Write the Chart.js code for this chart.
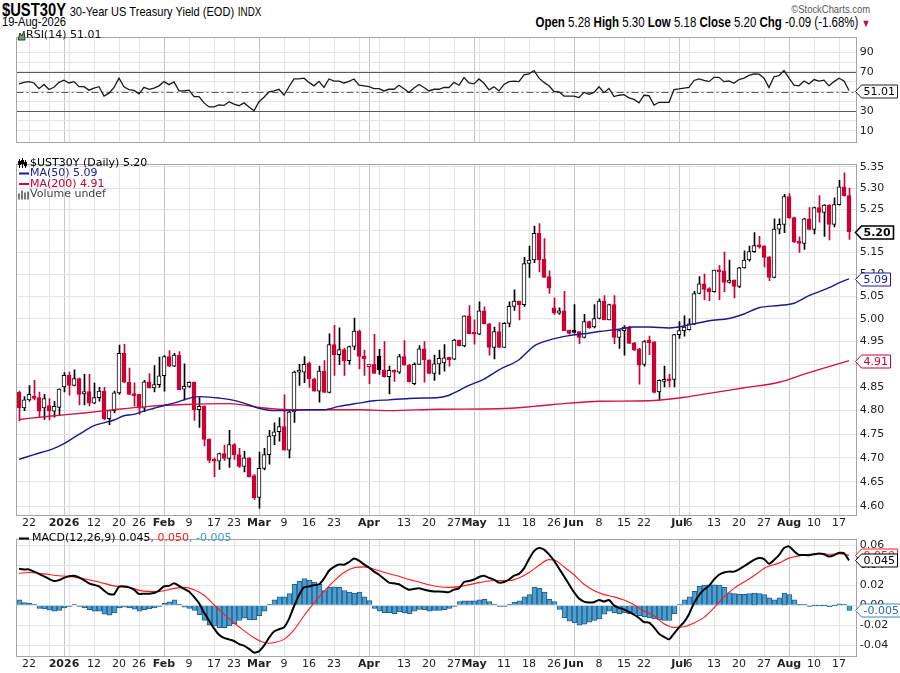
<!DOCTYPE html>
<html>
<head>
<meta charset="utf-8">
<script src="https://cdn.jsdelivr.net/npm/chart.js@4.4.1/dist/chart.umd.min.js"></script>
<style>
  body { margin: 0; background: #fff; width: 900px; height: 673px; overflow: hidden; position: relative; }
  canvas { position: absolute; left: 0; }
  .hd { position: absolute; white-space: nowrap; font-family: "Liberation Sans", Arial, sans-serif; color: #000; transform: scaleX(0.82); }
  #t1 { left: 2px; top: 1px; line-height: 18px; transform-origin: left top; }
  #t1 .tk { font-weight: bold; font-size: 18px; }
  #t1 .nm { font-size: 13.5px; }
  #t1 .ex { font-size: 12px; }
  #t2 { left: 2px; top: 15px; font-size: 13.5px; line-height: 14px; transform-origin: left top; }
  #t3 { right: 29px; top: 15px; font-size: 14px; line-height: 14px; transform-origin: right top; }
  #t4 { right: 30px; top: 3px; font-size: 11.5px; line-height: 12px; color: #555; transform-origin: right top; }
</style>
</head>
<body>
<div class="hd" id="t1"><span class="tk">$UST30Y</span> <span class="nm">30-Year US Treasury Yield (EOD)</span> <span class="ex">INDX</span></div>
<div class="hd" id="t2">19-Aug-2026</div>
<div class="hd" id="t4">©StockCharts.com</div>
<div class="hd" id="t3"><b>Open</b> 5.28 <b>High</b> 5.30 <b>Low</b> 5.18 <b>Close</b> 5.20 <b>Chg</b> -0.09 (-1.68%) <span style="color:#b0103a;font-size:11px">&#9660;</span></div>

<canvas id="rsiChart" width="900" height="124" style="top:28px"></canvas>
<canvas id="priceChart" width="900" height="376" style="top:155px"></canvas>
<canvas id="macdChart" width="900" height="143" style="top:530px"></canvas>

<script>
// trading days 18-Dec-2025 .. 19-Aug-2026 are indexes 0..166
const xTickIdx = [2, 9, 15, 20, 24, 29, 34, 39, 43, 48, 53, 58, 63, 70, 77, 82, 87, 91, 97, 102, 107, 111, 116, 121, 125, 132, 134, 139, 144, 149, 154, 159, 164];
const xTickText = ['22', '2026', '12', '20', '26', 'Feb', '9', '17', '23', 'Mar', '9', '16', '23', 'Apr', '13', '20', '27', 'May', '11', '18', '26', 'Jun', '8', '15', '22', 'Jul', '6', '13', '20', '27', 'Aug', '10', '17'];
const gridIdx = [2, 6, 9, 10, 15, 20, 24, 29, 34, 39, 43, 48, 53, 58, 63, 68, 70, 72, 77, 82, 87, 91, 92, 97, 102, 107, 111, 116, 121, 125, 130, 132, 134, 139, 144, 149, 154, 159, 164];
const monthIdx = [9, 29, 48, 70, 91, 111, 132, 154];

const openP = [
  4.839, 4.806, 4.823, 4.831, 4.828, 4.806, 4.811, 4.799, 4.807, 4.851,
  4.876, 4.854, 4.869, 4.836, 4.841, 4.816, 4.828, 4.842, 4.783, 4.800,
  4.838, 4.924, 4.861, 4.835, 4.835, 4.805, 4.862, 4.849, 4.856, 4.875,
  4.917, 4.896, 4.920, 4.846, 4.852, 4.861, 4.802, 4.809, 4.739, 4.697,
  4.693, 4.709, 4.699, 4.728, 4.707, 4.682, 4.700, 4.663, 4.618, 4.678,
  4.707, 4.746, 4.755, 4.766, 4.716, 4.797, 4.883, 4.883, 4.902, 4.868,
  4.842, 4.885, 4.839, 4.943, 4.921, 4.932, 4.908, 4.939, 4.973, 4.918,
  4.895, 4.900, 4.918, 4.888, 4.873, 4.887, 4.883, 4.917, 4.898, 4.858,
  4.900, 4.934, 4.910, 4.880, 4.901, 4.903, 4.915, 4.911, 4.953, 4.940,
  5.007, 4.969, 4.966, 5.018, 4.989, 4.937, 4.972, 4.937, 4.990, 5.028,
  5.040, 5.032, 5.125, 5.133, 5.194, 5.135, 5.095, 5.025, 5.013, 5.018,
  4.975, 4.973, 4.972, 4.959, 4.994, 4.982, 5.001, 5.040, 4.998, 5.032,
  4.959, 4.974, 4.982, 4.947, 4.934, 4.900, 4.953, 4.949, 4.840, 4.863,
  4.867, 4.867, 4.965, 4.974, 4.976, 4.989, 5.057, 5.079, 5.068, 5.061,
  5.110, 5.108, 5.082, 5.087, 5.073, 5.115, 5.133, 5.152, 5.166, 5.165,
  5.140, 5.093, 5.204, 5.215, 5.280, 5.231, 5.176, 5.171, 5.228, 5.203,
  5.254, 5.243, 5.260, 5.215, 5.261, 5.303, 5.282
];
const highP = [
  4.842, 4.830, 4.854, 4.865, 4.840, 4.835, 4.826, 4.820, 4.847, 4.882,
  4.883, 4.888, 4.870, 4.878, 4.878, 4.859, 4.850, 4.850, 4.800, 4.842,
  4.942, 4.944, 4.892, 4.860, 4.835, 4.865, 4.880, 4.897, 4.916, 4.919,
  4.930, 4.924, 4.928, 4.901, 4.862, 4.862, 4.828, 4.810, 4.740, 4.700,
  4.710, 4.727, 4.758, 4.730, 4.720, 4.714, 4.700, 4.665, 4.712, 4.720,
  4.758, 4.774, 4.785, 4.834, 4.800, 4.885, 4.900, 4.917, 4.905, 4.870,
  4.896, 4.908, 4.967, 4.986, 4.980, 4.935, 4.940, 5.002, 4.975, 4.931,
  4.900, 4.966, 4.933, 4.950, 4.896, 4.888, 4.922, 4.952, 4.900, 4.903,
  4.941, 4.950, 4.910, 4.920, 4.931, 4.943, 4.916, 4.955, 4.953, 5.007,
  5.030, 4.998, 5.038, 5.027, 4.990, 4.982, 4.992, 4.992, 5.038, 5.065,
  5.040, 5.139, 5.165, 5.211, 5.217, 5.182, 5.108, 5.047, 5.025, 5.062,
  4.975, 5.032, 4.972, 5.010, 4.995, 5.032, 5.045, 5.052, 5.033, 5.052,
  4.975, 4.985, 4.984, 4.948, 4.935, 4.952, 4.962, 4.950, 4.866, 4.896,
  4.878, 4.966, 4.994, 5.007, 5.000, 5.062, 5.095, 5.101, 5.070, 5.110,
  5.120, 5.151, 5.133, 5.088, 5.116, 5.154, 5.165, 5.196, 5.187, 5.166,
  5.141, 5.228, 5.228, 5.285, 5.287, 5.232, 5.186, 5.229, 5.254, 5.255,
  5.282, 5.261, 5.261, 5.277, 5.318, 5.336, 5.300
];
const lowP = [
  4.778, 4.800, 4.820, 4.823, 4.785, 4.781, 4.780, 4.786, 4.790, 4.840,
  4.833, 4.853, 4.812, 4.812, 4.810, 4.815, 4.820, 4.780, 4.770, 4.795,
  4.835, 4.860, 4.834, 4.810, 4.792, 4.798, 4.848, 4.840, 4.850, 4.842,
  4.895, 4.895, 4.845, 4.823, 4.850, 4.779, 4.764, 4.725, 4.690, 4.661,
  4.676, 4.695, 4.680, 4.697, 4.680, 4.671, 4.660, 4.614, 4.596, 4.675,
  4.687, 4.728, 4.735, 4.716, 4.700, 4.775, 4.854, 4.860, 4.850, 4.842,
  4.818, 4.839, 4.838, 4.876, 4.899, 4.876, 4.900, 4.932, 4.890, 4.876,
  4.858, 4.880, 4.878, 4.872, 4.836, 4.863, 4.880, 4.898, 4.861, 4.856,
  4.900, 4.861, 4.879, 4.865, 4.878, 4.885, 4.896, 4.910, 4.940, 4.938,
  4.967, 4.944, 4.965, 4.989, 4.920, 4.912, 4.937, 4.937, 4.982, 5.019,
  4.998, 5.028, 5.093, 5.127, 5.106, 5.093, 5.057, 5.010, 5.010, 4.974,
  4.966, 4.968, 4.945, 4.958, 4.979, 4.980, 5.000, 4.998, 4.998, 4.945,
  4.935, 4.920, 4.946, 4.930, 4.857, 4.896, 4.921, 4.838, 4.823, 4.851,
  4.851, 4.851, 4.957, 4.962, 4.975, 4.987, 5.056, 5.043, 5.041, 5.060,
  5.043, 5.061, 5.080, 5.047, 5.070, 5.114, 5.130, 5.150, 5.160, 5.117,
  5.086, 5.092, 5.193, 5.196, 5.229, 5.173, 5.150, 5.157, 5.202, 5.193,
  5.220, 5.187, 5.179, 5.209, 5.260, 5.281, 5.180
];
const closeP = [
  4.806, 4.823, 4.835, 4.826, 4.799, 4.826, 4.799, 4.809, 4.846, 4.876,
  4.854, 4.869, 4.835, 4.841, 4.816, 4.828, 4.842, 4.783, 4.800, 4.838,
  4.924, 4.861, 4.835, 4.832, 4.805, 4.862, 4.849, 4.856, 4.875, 4.917,
  4.896, 4.920, 4.845, 4.852, 4.861, 4.802, 4.809, 4.739, 4.695, 4.693,
  4.709, 4.699, 4.728, 4.707, 4.682, 4.700, 4.661, 4.617, 4.678, 4.707,
  4.746, 4.755, 4.766, 4.716, 4.797, 4.883, 4.885, 4.900, 4.868, 4.842,
  4.885, 4.839, 4.943, 4.921, 4.932, 4.908, 4.939, 4.973, 4.917, 4.912,
  4.900, 4.880, 4.888, 4.873, 4.887, 4.883, 4.917, 4.898, 4.862, 4.900,
  4.934, 4.910, 4.880, 4.901, 4.913, 4.914, 4.910, 4.953, 4.940, 5.007,
  4.967, 4.966, 5.018, 4.989, 4.937, 4.972, 4.937, 4.990, 5.028, 5.040,
  5.032, 5.125, 5.133, 5.194, 5.133, 5.093, 5.069, 5.013, 5.018, 4.974,
  4.968, 4.970, 4.959, 4.994, 4.980, 5.001, 5.040, 4.998, 5.032, 4.959,
  4.974, 4.982, 4.946, 4.932, 4.898, 4.950, 4.947, 4.839, 4.865, 4.867,
  4.864, 4.965, 4.974, 4.982, 4.989, 5.057, 5.079, 5.066, 5.061, 5.110,
  5.106, 5.082, 5.087, 5.073, 5.115, 5.133, 5.152, 5.166, 5.163, 5.139,
  5.093, 5.204, 5.215, 5.280, 5.230, 5.174, 5.171, 5.228, 5.203, 5.254,
  5.243, 5.260, 5.215, 5.261, 5.303, 5.282, 5.198
];

// moving averages at these day indexes
const ma50Idx = [0, 3, 7, 9, 11, 13, 15, 17, 19, 21, 23, 25, 27, 29, 31, 33, 35, 36, 38, 40, 42, 45, 48, 51, 54, 58, 61, 64, 68, 71, 74, 78, 81, 84, 86, 90, 93, 96, 100, 103, 106, 110, 113, 116, 120, 123, 126, 130, 135, 138, 142, 145, 148, 152, 155, 158, 162, 164, 166];
const ma50Val = [4.697, 4.707, 4.720, 4.730, 4.743, 4.756, 4.768, 4.774, 4.780, 4.789, 4.792, 4.799, 4.805, 4.811, 4.816, 4.823, 4.829, 4.830, 4.829, 4.827, 4.824, 4.816, 4.805, 4.800, 4.800, 4.802, 4.802, 4.809, 4.816, 4.821, 4.823, 4.826, 4.827, 4.828, 4.833, 4.854, 4.868, 4.888, 4.910, 4.940, 4.953, 4.963, 4.967, 4.972, 4.977, 4.982, 4.982, 4.980, 4.989, 4.996, 5.001, 5.011, 5.025, 5.030, 5.035, 5.052, 5.070, 5.081, 5.090];
const ma200Idx = [0, 6, 13, 19, 26, 33, 42, 48, 54, 61, 68, 74, 84, 96, 103, 110, 116, 126, 132, 138, 145, 152, 158, 166];
const ma200Val = [4.781, 4.788, 4.795, 4.802, 4.809, 4.813, 4.815, 4.807, 4.802, 4.802, 4.802, 4.800, 4.803, 4.804, 4.809, 4.816, 4.820, 4.821, 4.827, 4.837, 4.849, 4.861, 4.882, 4.908];

const rsi = [
  57.8, 59.3, 60.1, 58.7, 52.9, 57.2, 52.0, 54.3, 59.3, 61.6,
  58.7, 60.1, 54.9, 54.9, 51.4, 53.5, 54.9, 45.4, 48.3, 54.1,
  63.6, 54.9, 52.0, 51.2, 47.7, 54.3, 52.3, 53.5, 55.8, 60.1,
  57.0, 59.9, 50.6, 50.6, 51.4, 44.8, 44.8, 38.4, 34.3, 34.3,
  36.4, 35.8, 39.6, 37.2, 35.5, 38.4, 34.1, 30.3, 39.6, 44.2,
  49.7, 50.6, 52.3, 46.2, 54.9, 62.8, 62.8, 63.6, 59.3, 55.8,
  60.4, 54.3, 62.8, 60.7, 60.7, 58.7, 60.4, 62.8, 56.4, 55.8,
  54.9, 52.9, 52.9, 50.6, 52.3, 52.3, 56.4, 52.9, 49.1, 53.5,
  57.2, 54.1, 50.6, 52.3, 52.3, 54.1, 54.1, 59.3, 56.4, 64.2,
  58.7, 57.8, 62.8, 58.4, 51.7, 54.9, 50.6, 57.2, 60.1, 60.7,
  60.1, 67.1, 68.0, 71.4, 63.6, 59.3, 55.8, 50.0, 49.7, 45.4,
  45.4, 45.4, 43.9, 49.1, 47.1, 49.1, 54.9, 48.8, 53.2, 44.8,
  46.2, 46.8, 43.6, 41.9, 38.4, 46.2, 45.7, 36.1, 39.0, 39.0,
  39.0, 52.0, 52.6, 53.5, 54.1, 61.3, 62.8, 61.3, 60.1, 64.5,
  64.5, 60.1, 60.7, 58.4, 62.2, 63.6, 66.5, 68.0, 67.7, 63.6,
  54.1, 65.1, 66.2, 71.4, 63.6, 56.4, 55.8, 60.7, 57.8, 62.2,
  60.7, 61.6, 55.8, 60.1, 63.6, 60.7, 51.01
];

const macdLine = [
  0.0365, 0.0359, 0.0359, 0.0337, 0.0315, 0.0290, 0.0265, 0.0243, 0.0252, 0.0274,
  0.0290, 0.0296, 0.0280, 0.0252, 0.0220, 0.0205, 0.0189, 0.0148, 0.0113, 0.0110,
  0.0186, 0.0189, 0.0180, 0.0157, 0.0113, 0.0117, 0.0117, 0.0123, 0.0148, 0.0189,
  0.0195, 0.0220, 0.0195, 0.0164, 0.0139, 0.0085, 0.0022, -0.0072, -0.0151, -0.0230,
  -0.0293, -0.0324, -0.0340, -0.0356, -0.0387, -0.0403, -0.0435, -0.0472, -0.0460, -0.0403,
  -0.0324, -0.0261, -0.0239, -0.0220, -0.0135, -0.0009, 0.0101, 0.0180, 0.0189, 0.0202,
  0.0211, 0.0268, 0.0346, 0.0384, 0.0409, 0.0406, 0.0431, 0.0469, 0.0447, 0.0409,
  0.0378, 0.0337, 0.0306, 0.0265, 0.0227, 0.0220, 0.0211, 0.0180, 0.0157, 0.0164,
  0.0170, 0.0157, 0.0145, 0.0139, 0.0139, 0.0135, 0.0132, 0.0157, 0.0170, 0.0233,
  0.0243, 0.0258, 0.0283, 0.0296, 0.0274, 0.0258, 0.0227, 0.0233, 0.0258, 0.0296,
  0.0315, 0.0369, 0.0463, 0.0542, 0.0573, 0.0557, 0.0510, 0.0447, 0.0369, 0.0290,
  0.0211, 0.0132, 0.0069, 0.0038, 0.0028, 0.0031, 0.0054, 0.0038, 0.0054, 0.0000,
  -0.0025, -0.0041, -0.0066, -0.0094, -0.0126, -0.0167, -0.0173, -0.0220, -0.0283, -0.0315,
  -0.0340, -0.0283, -0.0220, -0.0167, -0.0088, 0.0022, 0.0101, 0.0157, 0.0195, 0.0258,
  0.0306, 0.0328, 0.0337, 0.0337, 0.0359, 0.0391, 0.0422, 0.0454, 0.0472, 0.0463,
  0.0416, 0.0454, 0.0501, 0.0573, 0.0589, 0.0542, 0.0504, 0.0504, 0.0501, 0.0510,
  0.0517, 0.0510, 0.0488, 0.0501, 0.0526, 0.0520, 0.0450
];
const signalIdx = [0, 2, 5, 8, 10, 13, 16, 19, 22, 25, 28, 31, 33, 35, 37, 39, 41, 43, 45, 47, 49, 50, 51, 53, 55, 57, 59, 61, 63, 65, 67, 69, 70, 72, 74, 76, 78, 80, 82, 84, 86, 89, 92, 95, 98, 100, 102, 104, 106, 107, 109, 111, 113, 115, 117, 119, 121, 123, 125, 127, 129, 131, 133, 135, 137, 139, 141, 143, 145, 147, 149, 150, 152, 154, 156, 158, 160, 162, 164, 166];
const signalVal = [0.0321, 0.0328, 0.0315, 0.0296, 0.0290, 0.0265, 0.0233, 0.0195, 0.0180, 0.0142, 0.0139, 0.0170, 0.0180, 0.0157, 0.0101, 0.0006, -0.0088, -0.0176, -0.0252, -0.0324, -0.0372, -0.0378, -0.0372, -0.0340, -0.0246, -0.0104, 0.0022, 0.0139, 0.0243, 0.0328, 0.0375, 0.0384, 0.0375, 0.0346, 0.0315, 0.0290, 0.0258, 0.0233, 0.0205, 0.0186, 0.0180, 0.0195, 0.0227, 0.0249, 0.0249, 0.0274, 0.0328, 0.0400, 0.0457, 0.0454, 0.0384, 0.0306, 0.0211, 0.0148, 0.0107, 0.0085, 0.0054, 0.0006, -0.0057, -0.0104, -0.0183, -0.0220, -0.0214, -0.0176, -0.0120, -0.0025, 0.0085, 0.0170, 0.0233, 0.0296, 0.0369, 0.0391, 0.0422, 0.0472, 0.0494, 0.0510, 0.0517, 0.0510, 0.0517, 0.0500];
const macdHist = [
  0.0054, 0.0028, 0.0022, 0.0006, -0.0031, -0.0035, -0.0047, -0.0057, -0.0050, -0.0025,
  -0.0006, 0.0006, -0.0006, -0.0025, -0.0044, -0.0057, -0.0057, -0.0088, -0.0098, -0.0076,
  -0.0025, -0.0019, -0.0025, -0.0038, -0.0057, -0.0044, -0.0035, -0.0025, -0.0009, 0.0022,
  0.0035, 0.0054, 0.0006, -0.0019, -0.0031, -0.0050, -0.0094, -0.0151, -0.0198, -0.0208,
  -0.0224, -0.0224, -0.0205, -0.0183, -0.0151, -0.0129, -0.0145, -0.0145, -0.0104, -0.0057,
  0.0005, 0.0054, 0.0085, 0.0085, 0.0117, 0.0211, 0.0243, 0.0268, 0.0252, 0.0233,
  0.0211, 0.0148, 0.0180, 0.0186, 0.0180, 0.0148, 0.0132, 0.0123, 0.0132, 0.0085,
  0.0047, -0.0031, -0.0057, -0.0072, -0.0072, -0.0082, -0.0066, -0.0072, -0.0082, -0.0057,
  -0.0041, -0.0044, -0.0057, -0.0050, -0.0050, -0.0044, -0.0031, -0.0009, 0.0038, 0.0044,
  0.0044, 0.0044, 0.0054, 0.0060, 0.0038, 0.0013, -0.0006, -0.0009, 0.0006, 0.0031,
  0.0044, 0.0085, 0.0107, 0.0180, 0.0170, 0.0132, 0.0060, 0.0038, -0.0041, -0.0126,
  -0.0157, -0.0176, -0.0198, -0.0189, -0.0167, -0.0151, -0.0135, -0.0088, -0.0057, -0.0072,
  -0.0082, -0.0072, -0.0082, -0.0088, -0.0104, -0.0113, -0.0126, -0.0135, -0.0145, -0.0151,
  -0.0151, -0.0082, 0.0013, 0.0054, 0.0085, 0.0139, 0.0189, 0.0202, 0.0205, 0.0205,
  0.0202, 0.0180, 0.0126, 0.0117, 0.0110, 0.0110, 0.0117, 0.0123, 0.0117, 0.0107,
  0.0076, 0.0054, 0.0076, 0.0123, 0.0107, 0.0054, 0.0006, 0.0006, -0.0009, 0.0000,
  0.0000, 0.0000, -0.0013, 0.0000, 0.0016, 0.0006, -0.0050
];

const priceTicks = [4.60, 4.65, 4.70, 4.75, 4.80, 4.85, 4.90, 4.95, 5.00, 5.05, 5.10, 5.15, 5.20, 5.25, 5.30, 5.35];
const rsiTicks = [10, 20, 30, 40, 50, 60, 70, 80, 90];
const rsiLabelled = [10, 30, 70, 90];
const macdTicks = [-0.04, -0.02, 0, 0.02, 0.04, 0.06];

const RED = '#cc0033', NAVY = '#1a1a8c', FONT = 'DejaVu Sans';
const wickShift = 0.1; // half a pixel, keeps 1px wicks sharp

function xAxis(showLabels, h) {
  return {
    type: 'linear', min: -0.5, max: 167.54, offset: false,
    afterBuildTicks: s => { s.ticks = gridIdx.map(v => ({ value: v })); },
    afterFit: s => { s.height = h; },
    grid: { offset: false, drawTicks: false, color: c => monthIdx.includes(c.tick && c.tick.value) ? '#c6c6c6' : '#e3e3e3' },
    border: { display: false },
    ticks: {
      display: showLabels, autoSkip: false, maxRotation: 0, padding: 1, color: '#222',
      font: c => ({ family: FONT, size: 11, weight: (c.tick && (monthIdx.includes(c.tick.value))) ? 'bold' : 'normal' }),
      callback: v => { const k = xTickIdx.indexOf(v); return k < 0 ? '' : xTickText[k]; }
    }
  };
}
function yAxis(type, min, max, ticks, fmt) {
  return {
    type: type, position: 'right', min: min, max: max,
    afterFit: s => { s.width = 43.3; },
    afterBuildTicks: s => { s.ticks = ticks.map(v => ({ value: v })); },
    grid: { drawTicks: false, color: '#e3e3e3' },
    border: { display: false },
    ticks: { autoSkip: false, padding: 3, color: '#222', font: { family: FONT, size: 11 }, callback: fmt }
  };
}

function drawIcon(ctx, kind, y, color) {
  ctx.save();
  if (kind === 'mountain') {
    ctx.beginPath();
    ctx.moveTo(18, y + 5); ctx.lineTo(20, y - 2); ctx.lineTo(22, y + 1); ctx.lineTo(24, y - 4); ctx.lineTo(25, y + 5);
    ctx.closePath(); ctx.fillStyle = '#6d9e6d'; ctx.fill(); ctx.strokeStyle = '#333'; ctx.lineWidth = 1; ctx.stroke();
  } else if (kind === 'candles') {
    ctx.fillStyle = '#000';
    ctx.fillRect(19, y - 4, 1, 9); ctx.fillRect(22, y - 5, 1, 10); ctx.fillRect(25, y - 3, 1, 8);
    ctx.fillRect(18, y - 2, 3, 4); ctx.fillRect(21, y - 3, 3, 4); ctx.fillRect(24, y - 1, 3, 4);
  } else if (kind === 'dash') {
    ctx.fillStyle = color; ctx.fillRect(19, y - 1, 10, 2);
  } else if (kind === 'bars') {
    ctx.fillStyle = '#777';
    ctx.fillRect(18, y - 1, 2, 6); ctx.fillRect(21, y - 4, 2, 9); ctx.fillRect(24, y - 2, 2, 7); ctx.fillRect(27, y - 3, 2, 8);
  }
  ctx.restore();
}

// frame, legend text, reference lines and value tags
const decor = {
  id: 'decor',
  beforeDatasetsDraw(chart, args, o) {
    if (!o.refLines) return;
    const ctx = chart.ctx, a = chart.chartArea, y = chart.scales.y;
    ctx.save();
    ctx.strokeStyle = '#5c5c5c'; ctx.lineWidth = 1;
    o.refLines.forEach(r => {
      const py = Math.round(y.getPixelForValue(r.v)) + 0.5;
      ctx.setLineDash(r.dash || []);
      ctx.beginPath(); ctx.moveTo(a.left, py); ctx.lineTo(a.right, py); ctx.stroke();
    });
    ctx.restore();
  },
  afterDraw(chart, args, o) {
    const ctx = chart.ctx, a = chart.chartArea, y = chart.scales.y;
    ctx.save();
    ctx.strokeStyle = '#a6a6a6'; ctx.lineWidth = 1;
    ctx.strokeRect(Math.floor(a.left) + 0.5, Math.floor(a.top) + 0.5, Math.round(a.right - a.left), Math.round(a.bottom - a.top));
    ctx.textBaseline = 'middle'; ctx.textAlign = 'left';
    (o.legend || []).forEach(l => {
      drawIcon(ctx, l.icon, l.y, l.iconColor);
      let x = l.x;
      l.parts.forEach(p => {
        ctx.font = '11px "' + FONT + '"';
        ctx.fillStyle = p.color;
        ctx.fillText(p.text, x, l.y);
        x += ctx.measureText(p.text).width;
      });
    });
    (o.boxes || []).forEach(b => {
      const py = Math.round(y.getPixelForValue(b.v)) + 0.5;
      ctx.font = (b.bold ? 'bold ' : '') + '11px "' + FONT + '"';
      const w = Math.round(ctx.measureText(b.text).width) + 5;
      const x0 = 855.5, x1 = x0 + 6, h = 6.5;
      ctx.beginPath();
      ctx.moveTo(x0, py); ctx.lineTo(x1, py - h); ctx.lineTo(x1 + w, py - h); ctx.lineTo(x1 + w, py + h); ctx.lineTo(x1, py + h);
      ctx.closePath();
      ctx.fillStyle = '#fff'; ctx.fill();
      ctx.strokeStyle = b.color; ctx.lineWidth = b.bold ? 1.6 : 1; ctx.stroke();
      ctx.fillStyle = b.textColor || b.color;
      ctx.fillText(b.text, x1 + 2, py + 0.5);
    });
    ctx.restore();
  }
};

const common = {
  responsive: false, animation: false, devicePixelRatio: 1, events: [],
  layout: { padding: { left: 16.5, right: 0, top: 1, bottom: 0 } }
};

// RSI panel
new Chart(document.getElementById('rsiChart'), {
  type: 'line',
  data: {
    datasets: [{
      data: rsi.map((v, i) => ({ x: i, y: v })),
      borderColor: '#1a1a1a', borderWidth: 1.3, pointRadius: 0, tension: 0
    }]
  },
  options: Object.assign({}, common, {
    scales: {
      x: xAxis(false, 0),
      y: yAxis('linear', -1.9, 105, rsiTicks, v => rsiLabelled.includes(v) ? String(v) : '')
    },
    plugins: {
      legend: { display: false }, tooltip: { enabled: false },
      decor: {
        refLines: [{ v: 70 }, { v: 30 }, { v: 50, dash: [7, 3, 2, 3] }],
        legend: [{ y: 7, x: 26, icon: 'mountain', parts: [{ text: 'RSI(14) 51.01', color: '#111' }] }],
        boxes: [{ v: 51.01, text: '51.01', color: '#222', textColor: '#000' }]
      }
    }
  }),
  plugins: [decor]
});

// price panel
const candleCol = closeP.map((c, i) => (i > 0 && c >= closeP[i - 1]) ? '#000' : RED);
const bodyFill = closeP.map((c, i) => c > openP[i] ? '#fff' : candleCol[i]);

new Chart(document.getElementById('priceChart'), {
  type: 'bar',
  data: {
    datasets: [
      {
        type: 'line', data: ma50Idx.map((x, k) => ({ x: x, y: ma50Val[k] })),
        borderColor: NAVY, borderWidth: 1.4, pointRadius: 0, cubicInterpolationMode: 'monotone', order: 0
      },
      {
        type: 'line', data: ma200Idx.map((x, k) => ({ x: x, y: ma200Val[k] })),
        borderColor: '#d2143f', borderWidth: 1.4, pointRadius: 0, cubicInterpolationMode: 'monotone', order: 0
      },
      {
        data: openP.map((o, i) => ({ x: i, y: [o, closeP[i]] })),
        backgroundColor: bodyFill, borderColor: candleCol, borderWidth: 1, borderSkipped: false,
        barThickness: 4, minBarLength: 2, grouped: false, order: 1
      },
      {
        data: highP.map((h, i) => ({ x: i + wickShift, y: [lowP[i], h] })),
        backgroundColor: candleCol, barThickness: 1, grouped: false, order: 2
      }
    ]
  },
  options: Object.assign({}, common, {
    scales: {
      x: xAxis(true, 15),
      y: yAxis('logarithmic', 4.5842, 5.3556, priceTicks, v => Number(v).toFixed(2))
    },
    plugins: {
      legend: { display: false }, tooltip: { enabled: false },
      decor: {
        legend: [
          { y: 8, x: 30, icon: 'candles', parts: [{ text: '$UST30Y (Daily) 5.20', color: '#000' }] },
          { y: 18.5, x: 30, icon: 'dash', iconColor: NAVY, parts: [{ text: 'MA(50) 5.09', color: NAVY }] },
          { y: 29, x: 30, icon: 'dash', iconColor: RED, parts: [{ text: 'MA(200) 4.91', color: RED }] },
          { y: 39.5, x: 30, icon: 'bars', parts: [{ text: 'Volume undef', color: '#444' }] }
        ],
        boxes: [
          { v: 4.908, text: '4.91', color: RED },
          { v: 5.09, text: '5.09', color: NAVY },
          { v: 5.198, text: '5.20', color: '#000', bold: true }
        ]
      }
    }
  }),
  plugins: [decor]
});

// MACD panel
new Chart(document.getElementById('macdChart'), {
  type: 'bar',
  data: {
    datasets: [
      {
        type: 'line', data: macdLine.map((v, i) => ({ x: i, y: v })),
        borderColor: '#000', borderWidth: 2, pointRadius: 0, tension: 0.2, order: 0
      },
      {
        type: 'line', data: signalIdx.map((x, k) => ({ x: x, y: signalVal[k] })),
        borderColor: '#ff1a1a', borderWidth: 1.1, pointRadius: 0, cubicInterpolationMode: 'monotone', order: 1
      },
      {
        data: macdHist.map((v, i) => ({ x: i + wickShift, y: v })),
        backgroundColor: '#4f9fce', borderColor: '#1f5d8c', borderWidth: 1, borderSkipped: 'start',
        barThickness: 5, minBarLength: 1, grouped: false, order: 2
      }
    ]
  },
  options: Object.assign({}, common, {
    scales: {
      x: xAxis(true, 16),
      y: yAxis('linear', -0.0516, 0.0657, macdTicks, v => Number(v).toFixed(2))
    },
    plugins: {
      legend: { display: false }, tooltip: { enabled: false },
      decor: {
        legend: [{
          y: 8.5, x: 32, icon: 'dash', iconColor: '#000',
          parts: [
            { text: 'MACD(12,26,9) 0.045', color: '#000' },
            { text: ', 0.050', color: '#ff1a1a' },
            { text: ', -0.005', color: '#3a98d4' }
          ]
        }],
        boxes: [
          { v: 0.050, text: '0.050', color: '#ff1a1a' },
          { v: 0.045, text: '0.045', color: '#000' },
          { v: -0.005, text: '-0.005', color: '#3a86c0', textColor: '#2a6fa8' }
        ]
      }
    }
  }),
  plugins: [decor]
});
</script>
</body>
</html>
